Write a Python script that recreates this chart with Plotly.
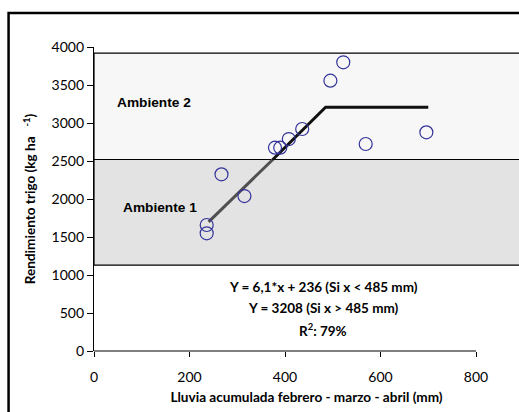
import plotly.graph_objects as go

# Data
lluvia = [236, 236, 267, 315, 379, 390, 408, 436, 495, 522, 569, 696]
rendimiento = [1658, 1549, 2325, 2039, 2675, 2675, 2789, 2921, 3557, 3799, 2724, 2877]

# Fitted piecewise model line (breakpoints)
fit_low_x = [240, 374]
fit_low_y = [1700, 2517]
fit_high_x = [374, 485, 700]
fit_high_y = [2517, 3208, 3208]

# Environment bands (yield ranges)
amb1 = (1130, 2520)
amb2 = (2520, 3920)

x_ticks = [0, 200, 400, 600, 800]
y_ticks = [0, 500, 1000, 1500, 2000, 2500, 3000, 3500, 4000]

eq_lines = ["Y = 6,1*x + 236 (Si x < 485 mm)", "Y = 3208 (Si x > 485 mm)", "R<sup>2</sup>: 79%"]
eq_y = [845, 565, 275]

TICKFONT = dict(family="Lato", size=14, color="black")
BOLD = "Lato"

fig = go.Figure()

fig.add_trace(go.Scatter(x=fit_low_x, y=fit_low_y, mode="lines",
                         line=dict(color="#505050", width=3), showlegend=False))
fig.add_trace(go.Scatter(x=fit_high_x, y=fit_high_y, mode="lines",
                         line=dict(color="#111111", width=3), showlegend=False))
fig.add_trace(go.Scatter(x=lluvia, y=rendimiento, mode="markers",
                         marker=dict(symbol="circle-open", size=13, color="#33339a",
                                     line=dict(width=1.2, color="#33339a")),
                         showlegend=False))

# bands
fig.add_shape(type="rect", xref="x domain", yref="y", x0=0, x1=1.01, y0=amb1[0], y1=amb1[1],
              fillcolor="#e3e3e3", line=dict(color="black", width=1.2), layer="below")
fig.add_shape(type="rect", xref="x domain", yref="y", x0=0, x1=1.01, y0=amb2[0], y1=amb2[1],
              fillcolor="#f7f7f7", line=dict(color="black", width=1.2), layer="below")

# x axis line only up to last tick
fig.add_shape(type="line", xref="x", yref="paper", x0=x_ticks[0], x1=x_ticks[-1], y0=0, y1=0,
              line=dict(color="black", width=1.2))

# outer frame
fig.add_shape(type="rect", xref="paper", yref="paper", x0=-0.201, x1=1.2, y0=-0.4, y1=1.112,
              line=dict(color="black", width=2.5), fillcolor="rgba(0,0,0,0)")

fig.add_annotation(x=45, y=3270, xref="x", yref="y", text="<b>Ambiente 2</b>", showarrow=False,
                   xanchor="left", font=dict(family="Liberation Sans", size=13.7, color="black"))
fig.add_annotation(x=57, y=1890, xref="x", yref="y", text="<b>Ambiente 1</b>", showarrow=False,
                   xanchor="left", font=dict(family="Liberation Sans", size=13.7, color="black"))

for t, yy in zip(eq_lines, eq_y):
    fig.add_annotation(x=480, y=yy, xref="x", yref="y", text="<b>" + t + "</b>", showarrow=False,
                       xanchor="center", font=dict(family=BOLD, size=13.5, color="black"))

fig.update_layout(
    width=519, height=412,
    margin=dict(l=94, r=0, t=47, b=61),
    paper_bgcolor="white", plot_bgcolor="white",
    xaxis=dict(range=[0, 890], tickvals=x_ticks, ticks="outside", ticklen=5, tickcolor="black",
               showline=False, showgrid=False, zeroline=False, tickfont=TICKFONT,
               ticklabelstandoff=8,
               title=dict(text="<b>Lluvia acumulada febrero - marzo - abril (mm)</b>",
                          font=dict(family=BOLD, size=13.6, color="black"), standoff=8)),
    yaxis=dict(range=[0, 4000], tickvals=y_ticks, ticks="outside", ticklen=6, tickcolor="black",
               showline=True, linecolor="black", linewidth=1.2, showgrid=False, zeroline=False,
               tickfont=TICKFONT,
               title=dict(text="<b>Rendimiento trigo (kg ha   <sup>-1</sup>)</b>",
                          font=dict(family=BOLD, size=13.6, color="black"), standoff=12)),
)

fig.write_html("out.html")
